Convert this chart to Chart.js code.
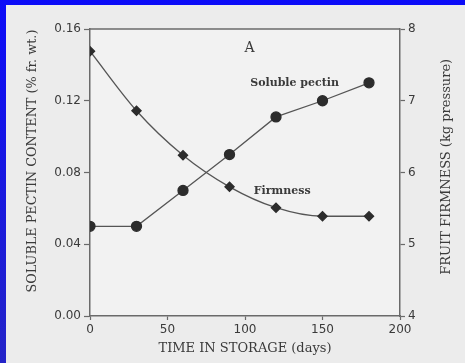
<!DOCTYPE html>
<html>
<head>
<meta charset="utf-8">
<script src="https://cdn.jsdelivr.net/npm/chart.js@4"></script>
<style>
  html, body { margin: 0; padding: 0; }
  body { width: 465px; height: 363px; background: linear-gradient(to bottom, #0c0cf8, #2424c8); position: relative; overflow: hidden; }
  .page { position: absolute; left: 6px; top: 5px; width: 459px; height: 358px; background: #ececec; }
</style>
</head>
<body>
<div class="page"><canvas id="myChart" width="459" height="358"></canvas></div>
<script>
// storage time (days)
var days = [0, 30, 60, 90, 120, 150, 180];
// soluble pectin content (% fr. wt.), left axis
var pectin = [0.050, 0.050, 0.070, 0.090, 0.111, 0.120, 0.130];
// fruit firmness (kg pressure), right axis
var firmness = [7.69, 6.86, 6.24, 5.80, 5.51, 5.39, 5.39];

var xTicks = [0, 50, 100, 150, 200];
var pectinTicks = [0.00, 0.04, 0.08, 0.12, 0.16];
var firmTicks = [4, 5, 6, 7, 8];

var leftTitle = "SOLUBLE PECTIN CONTENT (% fr. wt.)";
var rightTitle = "FRUIT FIRMNESS (kg pressure)";

// in-plot labels, placed in data units (days, pectin)
var noteText = ["A", "Soluble pectin", "Firmness"];
var noteX = [103, 132, 124];
var noteY = [0.149, 0.130, 0.0697];

const ink = "#3a3a3a";
const serif = "'DejaVu Serif', serif";
const sans = "'DejaVu Sans', sans-serif";

function sideTitle(c, text, x, y) {
  c.save();
  c.translate(x, y);
  c.rotate(-Math.PI / 2);
  c.fillText(text, 0, 0);
  c.restore();
}

const plotDeco = {
  id: "plotDeco",
  beforeDraw(chart) {
    const a = chart.chartArea, c = chart.ctx;
    c.save();
    c.fillStyle = "#f2f2f2";
    c.fillRect(a.left, a.top, a.right - a.left, a.bottom - a.top);
    c.restore();
  },
  afterDraw(chart) {
    const a = chart.chartArea, c = chart.ctx;
    const sx = chart.scales.x, sy = chart.scales.y;
    c.save();
    c.strokeStyle = "#6a6a6a";
    c.lineWidth = 1.5;
    c.beginPath();
    c.moveTo(a.left, a.top);
    c.lineTo(a.right, a.top);
    c.stroke();
    c.fillStyle = ink;
    c.textAlign = "center";
    c.textBaseline = "middle";
    noteText.forEach((t, i) => {
      c.font = (i === 0 ? "14px " : "bold 11px ") + serif;
      c.fillText(t, sx.getPixelForValue(noteX[i]), sy.getPixelForValue(noteY[i]));
    });
    // both side titles read bottom to top
    c.font = "12.8px " + serif;
    sideTitle(c, leftTitle, 27, a.top + (a.bottom - a.top) * 0.46);
    c.font = "13px " + serif;
    sideTitle(c, rightTitle, chart.width - 18, a.top + (a.bottom - a.top) * 0.48);
    c.restore();
  }
};

function toPoints(ys) {
  return days.map((d, i) => ({x: d, y: ys[i]}));
}

new Chart("myChart", {
  type: "line",
  data: {
    datasets: [{
      label: "Soluble pectin",
      data: toPoints(pectin),
      yAxisID: "y",
      borderColor: "#555",
      borderWidth: 1.3,
      pointStyle: "circle",
      pointRadius: 5,
      pointBackgroundColor: "#2c2c2c",
      pointBorderColor: "#2c2c2c",
      tension: 0
    }, {
      label: "Firmness",
      data: toPoints(firmness),
      yAxisID: "y1",
      borderColor: "#555",
      borderWidth: 1.3,
      pointStyle: "rectRot",
      pointRadius: 4.6,
      pointBackgroundColor: "#2c2c2c",
      pointBorderColor: "#2c2c2c",
      cubicInterpolationMode: "monotone"
    }]
  },
  options: {
    responsive: false,
    animation: false,
    events: [],
    layout: {padding: {top: 24, left: 0, right: 0, bottom: 0}},
    plugins: {legend: {display: false}, tooltip: {enabled: false}},
    scales: {
      x: {
        type: "linear",
        min: 0, max: 200,
        afterFit: s => { s.height = 47; },
        afterBuildTicks: s => { s.ticks = xTicks.map(v => ({value: v})); },
        grid: {drawOnChartArea: false, tickLength: 4, color: "#6a6a6a", tickWidth: 1.2},
        border: {color: "#6a6a6a", width: 1.5},
        ticks: {color: ink, padding: 3, font: {family: sans, size: 12}, maxRotation: 0},
        title: {display: true, text: "TIME IN STORAGE (days)", color: ink, font: {family: serif, size: 13}, padding: {top: 0, bottom: 7}}
      },
      y: {
        position: "left",
        min: 0, max: 0.16,
        afterFit: s => { s.width = 84; },
        afterBuildTicks: s => { s.ticks = pectinTicks.map(v => ({value: v})); },
        grid: {drawOnChartArea: false, tickLength: 6, color: "#6a6a6a", tickWidth: 1.2},
        border: {color: "#6a6a6a", width: 1.5},
        ticks: {color: ink, padding: 3, font: {family: sans, size: 12}, callback: v => v.toFixed(2)}
      },
      y1: {
        position: "right",
        min: 4, max: 8,
        afterFit: s => { s.width = 65; },
        afterBuildTicks: s => { s.ticks = firmTicks.map(v => ({value: v})); },
        grid: {drawOnChartArea: false, tickLength: 5, color: "#6a6a6a", tickWidth: 1.2},
        border: {color: "#6a6a6a", width: 1.5},
        ticks: {color: ink, padding: 3, font: {family: sans, size: 12}}
      }
    }
  },
  plugins: [plotDeco]
});
</script>
</body>
</html>
